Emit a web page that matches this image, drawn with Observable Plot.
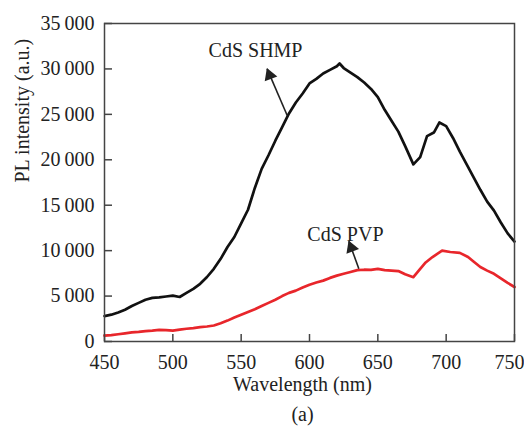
<!DOCTYPE html>
<html>
<head>
<meta charset="utf-8">
<script src="https://cdn.jsdelivr.net/npm/d3@7"></script>
<script src="https://cdn.jsdelivr.net/npm/@observablehq/plot@0.6"></script>
<style>
  html, body { margin: 0; padding: 0; background: #fff; }
</style>
</head>
<body>
<div id="chart"></div>
<script>
// CdS SHMP (black): wavelength (nm) and PL intensity (a.u.)
const shmpWavelength = [450,455,460,465,470,475,480,485,490,495,500,505,510,515,520,525,530,535,540,545,550,555,560,565,570,575,580,585,590,595,600,605,610,615,620,622,625,630,635,640,645,650,655,660,665,670,676,681,686,691,695,700,705,710,715,720,725,730,735,740,745,750];
const shmpIntensity  = [2800,2950,3200,3500,3900,4250,4600,4800,4850,4950,5050,4900,5350,5800,6350,7100,8000,9100,10400,11500,13000,14500,16900,19000,20500,22100,23600,25100,26300,27300,28400,28900,29500,29900,30300,30600,30100,29600,29100,28500,27800,26900,25500,24300,23100,21500,19500,20300,22600,23000,24100,23700,22400,20900,19500,18100,16700,15400,14400,13100,11900,11000];

// CdS PVP (red)
const pvpWavelength = [450,455,460,465,470,475,480,485,490,495,500,505,510,515,520,525,530,535,540,545,550,555,560,565,570,575,580,585,590,595,600,605,610,615,620,625,630,635,640,645,650,655,660,665,670,676,681,685,690,697,703,710,716,720,725,730,735,740,745,750];
const pvpIntensity  = [650,700,800,900,1000,1050,1150,1200,1280,1250,1200,1300,1400,1480,1580,1650,1760,2000,2300,2650,2950,3250,3550,3900,4250,4600,5000,5350,5600,5950,6250,6500,6700,7000,7250,7450,7650,7850,7900,7880,8000,7850,7800,7750,7400,7080,8000,8700,9300,10000,9850,9750,9300,8800,8200,7800,7450,6950,6450,6000];

// Axes ticks and labels
const xTicks = [450,500,550,600,650,700,750];
const xTickLabels = ["450","500","550","600","650","700","750"];
const yTicks = [0,5000,10000,15000,20000,25000,30000,35000];
const yTickLabels = ["0","5\u2009000","10\u2009000","15\u2009000","20\u2009000","25\u2009000","30\u2009000","35\u2009000"];

// Annotations (data coordinates)
const labelNames = ["CdS SHMP","CdS PVP"];
const labelX = [560.5, 626.3];
const labelY = [32070, 11820];
const arrowX1 = [583.7, 636.1];
const arrowY1 = [24874, 8001];
const arrowX2 = [569.0, 628.8];
const arrowY2 = [30013, 11039];

const shmp = shmpWavelength.map((w,i)=>({w, v: shmpIntensity[i]}));
const pvp = pvpWavelength.map((w,i)=>({w, v: pvpIntensity[i]}));
const labels = labelNames.map((t,i)=>({t, x: labelX[i], y: labelY[i]}));
const arrows = labelNames.map((t,i)=>({x1: arrowX1[i], y1: arrowY1[i], x2: arrowX2[i], y2: arrowY2[i]}));
const xMain = xTicks.slice(0, -1);
const xLast = xTicks.slice(-1);

const W = 524, H = 432;
const mL = 104, mR = 10, mT = 23, mB = 91;
const frameW = W - mL - mR, frameH = H - mT - mB;
const axisColor = "#444";
const textColor = "#222";

const chart = Plot.plot({
  width: W, height: H,
  marginLeft: mL, marginRight: mR, marginTop: mT, marginBottom: mB,
  style: {fontFamily: "'Liberation Serif', 'Times New Roman', serif", fontSize: "20px", color: textColor, background: "#fff", overflow: "visible"},
  x: {domain: [450, 750]},
  y: {domain: [0, 35000]},
  marks: [
    Plot.axisX({ticks: xMain, tickFormat: (d) => xTickLabels[xTicks.indexOf(d)], tickSize: 0, tickPadding: 13, label: null, fontSize: 20, fill: textColor}),
    Plot.text(xLast, {x: d => d, text: (d) => xTickLabels[xTicks.indexOf(d)], frameAnchor: "bottom", lineAnchor: "top", dy: 13, dx: -5, fontSize: 20, fill: textColor}),
    Plot.axisY({ticks: yTicks, tickFormat: (d) => yTickLabels[yTicks.indexOf(d)], tickSize: 0, tickPadding: 10, label: null, fontSize: 20, fill: textColor}),
    Plot.tickY(yTicks, {y: d => d, stroke: axisColor, strokeWidth: 1.5, insetRight: frameW - 8}),
    Plot.tickX(xTicks, {x: d => d, stroke: axisColor, strokeWidth: 1.5, insetTop: frameH - 7}),
    Plot.line(shmp, {x: "w", y: "v", stroke: "#111", strokeWidth: 2.7}),
    Plot.line(pvp, {x: "w", y: "v", stroke: "#e8262b", strokeWidth: 2.7}),
    Plot.link(arrows, {x1: "x1", y1: "y1", x2: "x2", y2: "y2", stroke: "#222", strokeWidth: 1.6}),
    Plot.dot(arrows, {x: "x2", y: "y2", symbol: "triangle", r: 5, fill: "#222", stroke: "none", rotate: -21, dx: 2.5, dy: 6.5}),
    Plot.text(labels, {x: "x", y: "y", text: "t", fontSize: 20, fill: textColor}),
    Plot.frame({stroke: axisColor, strokeWidth: 1.5}),
    Plot.text(["Wavelength (nm)"], {frameAnchor: "bottom", dy: 49.6, dx: -7, fontSize: 20, fill: textColor}),
    Plot.text(["PL intensity (a.u.)"], {frameAnchor: "left", dx: -82, rotate: -90, fontSize: 20, fill: textColor}),
    Plot.text(["(a)"], {frameAnchor: "bottom", dy: 79, dx: -7, fontSize: 20, fill: textColor})
  ]
});
document.getElementById("chart").appendChild(chart);
</script>
</body>
</html>
